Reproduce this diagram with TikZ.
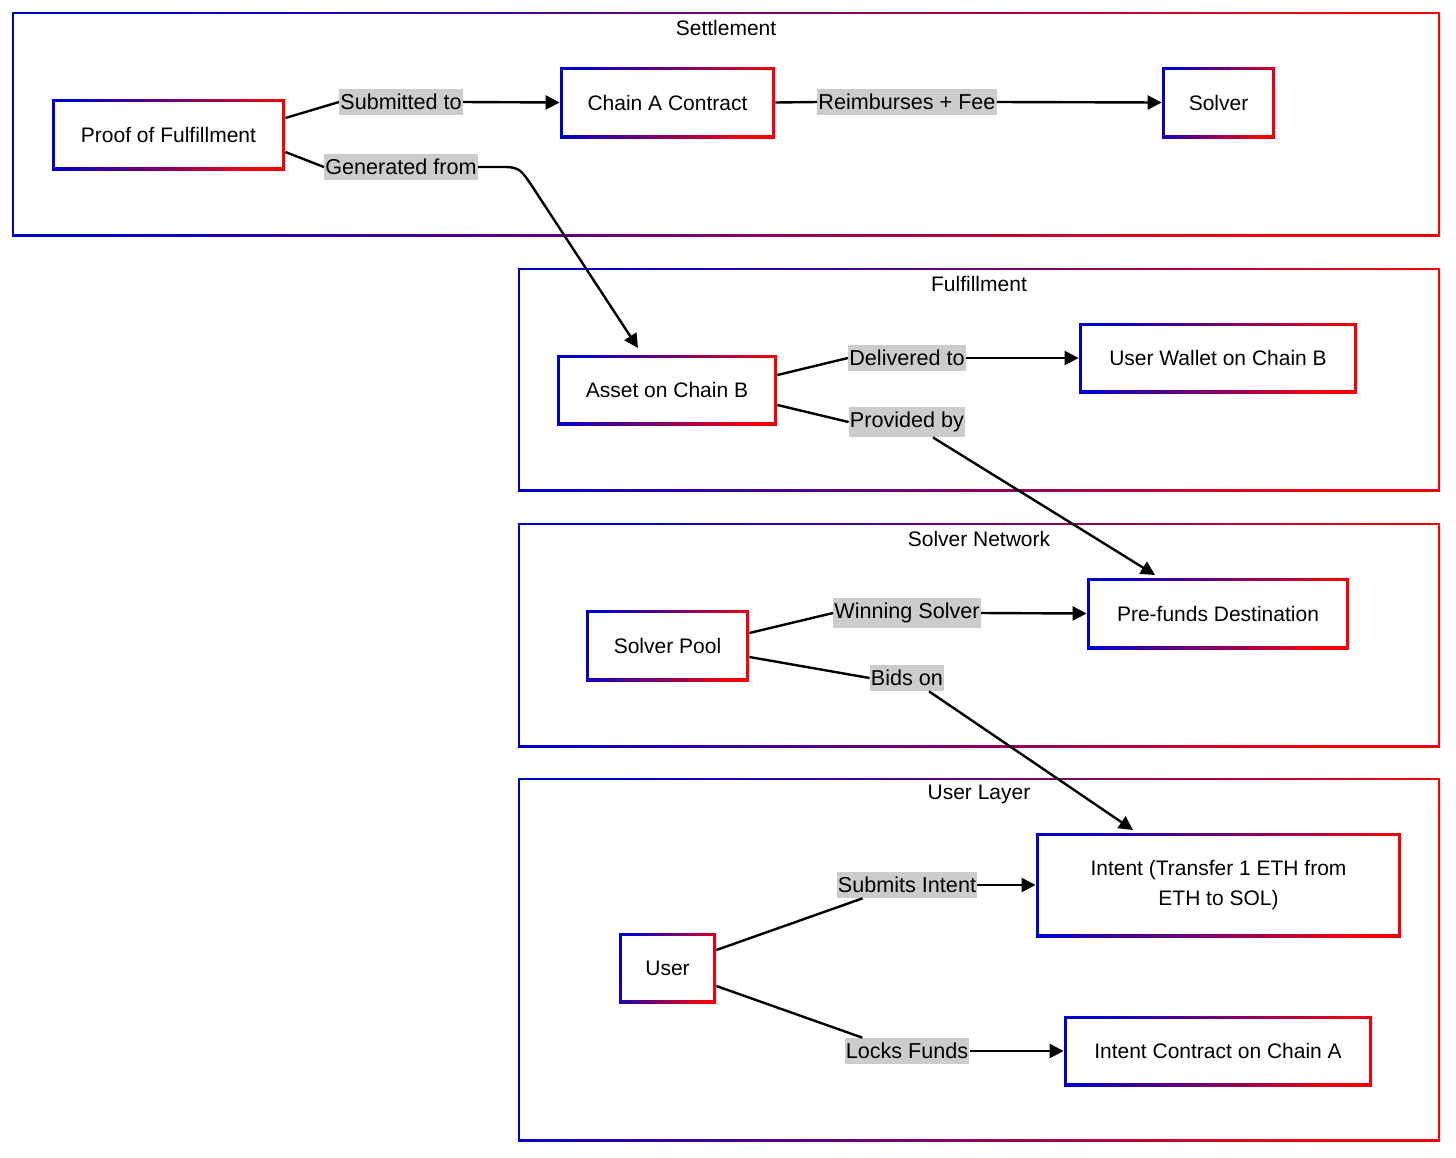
\documentclass[tikz,border=0pt]{standalone}
\usepackage{fontspec}
\setmainfont{Liberation Sans}
\usetikzlibrary{arrows.meta}
\tikzset{
  gradframe/.style={path picture={
    \shade[left color=blue!80!black,right color=red!85!purple,shading angle=70]
      (path picture bounding box.south west) rectangle (path picture bounding box.north east);
    \fill[white] ([shift={(#1,#1)}]path picture bounding box.south west)
      rectangle ([shift={(-#1,-#1)}]path picture bounding box.north east);}},
  box/.style={gradframe=1.4pt,inner sep=0pt,align=center,font=\fontsize{10.5}{15}\selectfont},
  cluster/.style={gradframe=1.2pt,inner sep=0pt},
  ttl/.style={font=\fontsize{10.5}{12}\selectfont,inner sep=0pt},
  lbl/.style={fill=black!20,inner xsep=0.5pt,inner ysep=2.5pt,font=\fontsize{10.8}{12}\selectfont},
  link/.style={line width=1.2pt},
  arr/.style={line width=1.2pt,-{Triangle[length=7pt,width=7pt]}}
}
\begin{document}
\begin{tikzpicture}[x=0.5pt,y=-0.5pt]
\useasboundingbox (0,0) rectangle (1456,1157);
% clusters
\node[cluster,minimum width=714pt,minimum height=112pt] (set) at (726,124) {};
\node[cluster,minimum width=461pt,minimum height=111.5pt] (ful) at (979,379.5) {};
\node[cluster,minimum width=461pt,minimum height=112pt] (net) at (979,635) {};
\node[cluster,minimum width=461pt,minimum height=181.5pt] (usr) at (979,959.5) {};
\node[ttl] (setT) at (726,28) {Settlement};
\node[ttl] (fulT) at (979,284) {Fulfillment};
\node[ttl] (netT) at (979,539) {Solver Network};
\node[ttl] (usrT) at (979,794) {User Layer};
% nodes
\node[box,minimum width=116.5pt,minimum height=35.5pt] (proof) at (168.5,134.5) {Proof of Fulfillment};
\node[box,minimum width=107.5pt,minimum height=35.5pt] (chainA) at (667.5,102.5) {Chain A Contract};
\node[box,minimum width=56.5pt,minimum height=35.5pt] (solver) at (1218.5,102.5) {Solver};
\node[box,minimum width=110pt,minimum height=35pt] (asset) at (667,390) {Asset on Chain B};
\node[box,minimum width=139pt,minimum height=35pt] (wallet) at (1218,358) {User Wallet on Chain B};
\node[box,minimum width=81.5pt,minimum height=35.5pt] (pool) at (667.5,645.5) {Solver Pool};
\node[box,minimum width=131pt,minimum height=35.5pt] (prefund) at (1218,613.5) {Pre-funds Destination};
\node[box,minimum width=182.5pt,minimum height=52pt] (intent) at (1218.5,885) {Intent (Transfer 1 ETH from\\ETH to SOL)};
\node[box,minimum width=48.5pt,minimum height=35pt] (user) at (667.5,968) {User};
\node[box,minimum width=154pt,minimum height=35pt] (icontract) at (1218,1051) {Intent Contract on Chain A};
% labels
\node[lbl] (l1) at (401,102) {Submitted to};
\node[lbl] (l2) at (907,102) {Reimburses + Fee};
\node[lbl] (l3) at (401,167) {Generated from};
\node[lbl] (l4) at (907,358) {Delivered to};
\node[lbl] (l5) at (907,422) {Provided by};
\node[lbl] (l6) at (907,613) {Winning Solver};
\node[lbl] (l7) at (907,678) {Bids on};
\node[lbl] (l8) at (907,885) {Submits Intent};
\node[lbl] (l9) at (907,1051) {Locks Funds};
% edges
\draw[link] (proof.east|-0,118) -- (l1.west);
\draw[arr] (l1.east) -- (chainA.west);
\draw[link] (chainA.east) -- (l2.west);
\draw[arr] (l2.east) -- (solver.west);
\draw[link] (proof.east|-0,152) -- (l3.west);
\draw[arr] (l3.east) -- (505,167) .. controls (520,167) and (522,172) .. (530,183) -- (638,348);
\draw[link] (asset.east|-0,375) -- (l4.west);
\draw[arr] (l4.east) -- (wallet.west);
\draw[link] (asset.east|-0,405) -- (l5.west);
\draw[arr] ([xshift=13pt]l5.south) -- (1155,575);
\draw[link] (pool.east|-0,633) -- (l6.west);
\draw[arr] (l6.east) -- (prefund.west);
\draw[link] (pool.east|-0,657) -- (l7.west);
\draw[arr] ([xshift=11pt]l7.south) -- (1133,830);
\draw[link] (user.east|-0,950) -- ([xshift=13pt]l8.south west);
\draw[arr] (l8.east) -- (intent.west);
\draw[link] (user.east|-0,986) -- ([xshift=9pt]l9.north west);
\draw[arr] (l9.east) -- (icontract.west);
\end{tikzpicture}
\end{document}
